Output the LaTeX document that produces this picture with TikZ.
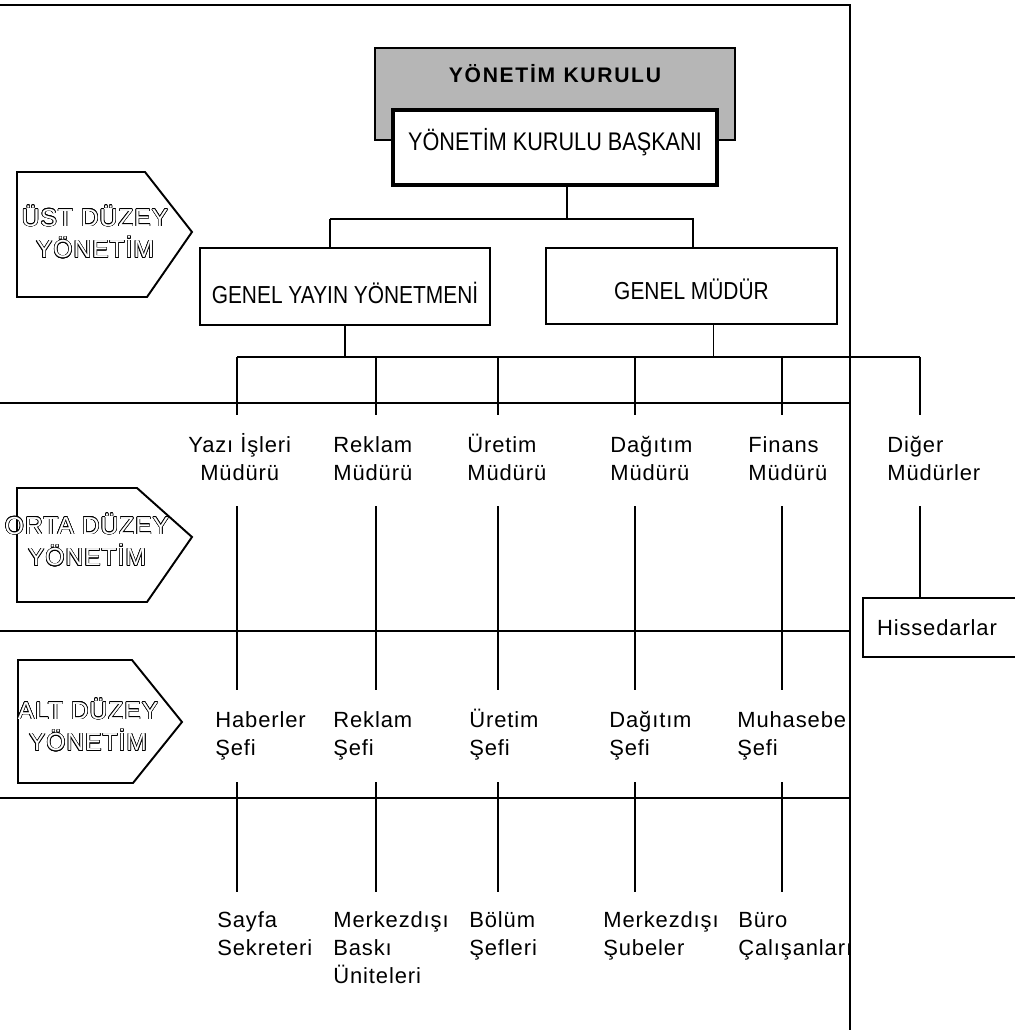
\documentclass[tikz,border=0pt]{standalone}
\usepackage{fontspec}
\setmainfont{Liberation Sans}
\newfontfamily\lblfont[LetterSpace=4]{Liberation Sans}
\newfontfamily\kutufont[FakeStretch=0.85]{Liberation Sans}
\newfontfamily\kurulfont[LetterSpace=8]{Liberation Sans}
\newfontfamily\duzeyfont[LetterSpace=4]{Liberation Sans}
\usepackage{contour}
\contourlength{0.35pt}
\definecolor{kurulgrey}{RGB}{182,182,182}

\tikzset{
  hat/.style={line width=1.1pt},
  lbl/.style={font=\lblfont\fontsize{12.5pt}{16pt}\selectfont, inner sep=0pt, anchor=north west, align=left},
  kutu/.style={draw, line width=1.1pt, fill=white, inner sep=0pt, font=\kutufont\fontsize{14pt}{16pt}\selectfont},
  duzeytext/.style={font=\duzeyfont\fontsize{14pt}{16pt}\selectfont, text=white, align=center, inner sep=0pt},
}

\begin{document}
\begin{tikzpicture}[x=0.2mm, y=-0.2mm]
            \useasboundingbox (0,0) rectangle (1014,1035);

            % Çerçeve ve düzey çizgileri
            \draw[hat] (0,5) -- (850,5) -- (850,1030);
            \foreach \y in {403,631,798} {
                \draw[hat] (0,\y) -- (850,\y);
            }

            % Düzey okları
            \draw[hat] (17,172) -- (145,172) -- (192,232) -- (147,297) -- (17,297) -- cycle;
            \draw[hat] (17,488) -- (137,488) -- (192,537) -- (147,602) -- (17,602) -- cycle;
            \draw[hat] (18,660) -- (132,660) -- (182,722) -- (133,783) -- (18,783) -- cycle;
            \node[duzeytext] (ust) at (95,236) {\strut\contour{black}{ÜST DÜZEY}\\\strut\contour{black}{YÖNETİM}};
            \node[duzeytext] (orta) at (87,544) {\strut\contour{black}{ORTA DÜZEY}\\\strut\contour{black}{YÖNETİM}};
            \node[duzeytext] (altd) at (88,729) {\strut\contour{black}{ALT DÜZEY}\\\strut\contour{black}{YÖNETİM}};

            % Üst yönetim kutuları
            \node[draw, hat, fill=kurulgrey, minimum width=7.2cm, minimum height=1.84cm, inner sep=0pt,
                  text height=0.7cm, text depth=1.14cm,
                  font=\kurulfont\bfseries\fontsize{12pt}{14pt}\selectfont] (kurul) at (555,94) {YÖNETİM\hspace{0.4em}KURULU};
            \node[kutu, line width=2.2pt, minimum width=6.48cm, minimum height=1.5cm,
                  text height=0.82cm, text depth=0.68cm,
                  font=\kutufont\fontsize{14.5pt}{16pt}\selectfont] (baskan) at (555,147.5) {YÖNETİM KURULU BAŞKANI};
            \node[kutu, minimum width=5.8cm, minimum height=1.54cm,
                  text height=1.1cm, text depth=0.44cm] (gyy) at (345,286.5) {GENEL YAYIN YÖNETMENİ};
            \node[kutu, minimum width=5.82cm, minimum height=1.52cm,
                  text height=1.02cm, text depth=0.5cm] (gm) at (691.5,286) {GENEL MÜDÜR};

            \coordinate (jL) at (330,219);
            \coordinate (jR) at (693,219);
            \draw[hat] ([xshift=0.24cm]baskan.south) -- ([xshift=0.24cm]baskan.south |- jL);
            \draw[hat] (jL) -- (jR) -- (jR |- gm.north);
            \draw[hat] (jL) -- (jL |- gyy.north);

            % Müdürler
            \node[lbl, align=center] (mud1) at (188,432) {\strut Yazı İşleri\\Müdürü\strut};
            \node[lbl] (mud2) at (333,432) {\strut Reklam\\Müdürü\strut};
            \node[lbl] (mud3) at (467,432) {\strut Üretim\\Müdürü\strut};
            \node[lbl] (mud4) at (610,432) {\strut Dağıtım\\Müdürü\strut};
            \node[lbl] (mud5) at (748,432) {\strut Finans\\Müdürü\strut};
            \node[lbl] (diger) at (887,432) {\strut Diğer\\Müdürler\strut};
            \node[lbl, draw, hat, anchor=center, minimum width=3.14cm, minimum height=1.18cm,
                  text width=2.58cm, inner xsep=0.28cm] (hisse) at (941.5,627.5) {Hissedarlar};

            % Şefler
            \node[lbl] (sef1) at (215,707) {\strut Haberler\\Şefi\strut};
            \node[lbl] (sef2) at (333,707) {\strut Reklam\\Şefi\strut};
            \node[lbl] (sef3) at (469,707) {\strut Üretim\\Şefi\strut};
            \node[lbl] (sef4) at (609,707) {\strut Dağıtım\\Şefi\strut};
            \node[lbl] (sef5) at (737,707) {\strut Muhasebe\\Şefi\strut};

            % Alt birimler
            \node[lbl] (alt1) at (217,907) {\strut Sayfa\\Sekreteri\strut};
            \node[lbl] (alt2) at (333,907) {\strut Merkezdışı\\Baskı\\Üniteleri\strut};
            \node[lbl] (alt3) at (469,907) {\strut Bölüm\\Şefleri\strut};
            \node[lbl] (alt4) at (603,907) {\strut Merkezdışı\\Şubeler\strut};
            \node[lbl] (alt5) at (738,907) {\strut Büro\\Çalışanları\strut};

            % Bağlantılar
            \foreach \i/\x in {1/237, 2/376, 3/498, 4/635, 5/782, 6/920} {
                \coordinate (c\i) at (\x,357);
            }
            \draw[hat] (c1) -- (c6);
            \draw[hat] (gyy.south) -- (gyy.south |- c1);
            \draw[hat] ([xshift=0.44cm]gm.south) -- ([xshift=0.44cm]gm.south |- c1);
            \foreach \i in {1,...,5} {
                \draw[hat, shorten >=0.34cm] (c\i) -- (c\i |- mud\i.north);
                \draw[hat, shorten <=0.35cm, shorten >=0.34cm] (c\i |- mud\i.south) -- (c\i |- sef\i.north);
                \draw[hat, shorten <=0.37cm, shorten >=0.3cm] (c\i |- sef\i.south) -- (c\i |- alt\i.north);
            }
            \draw[hat, shorten >=0.34cm] (c6) -- (c6 |- diger.north);
            \draw[hat, shorten <=0.35cm] (c6 |- diger.south) -- (c6 |- hisse.north);
        \end{tikzpicture}
\end{document}
